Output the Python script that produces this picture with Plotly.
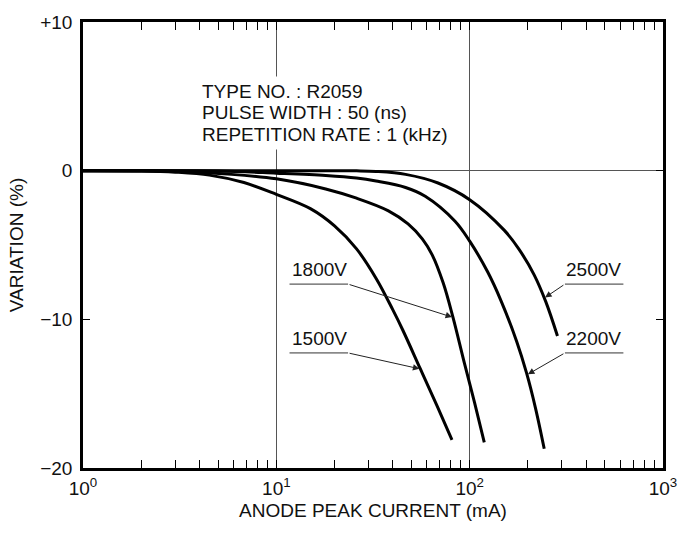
import numpy as np
import plotly.graph_objects as go

# ---- data (anode peak current in mA, variation in %) ----
current_1500 = [1, 2, 3, 4.5, 6.8, 10, 15, 20, 26, 33, 40, 45, 55.6, 68, 81]
var_1500 = [0, -0.02, -0.1, -0.3, -0.8, -1.59, -2.55, -3.71, -5.26, -7.3, -9.35, -10.7, -13.34, -15.86, -18.11]

current_1800 = [1, 3, 5.6, 10, 18, 26, 38, 48, 57, 64, 73, 82, 94, 106, 119]
var_1800 = [0, -0.05, -0.23, -0.55, -1.23, -1.85, -2.7, -3.58, -4.6, -5.66, -7.56, -9.87, -12.97, -15.6, -18.27]

current_2200 = [1, 5, 10, 18, 26, 32.8, 46.6, 58.9, 84, 100, 124, 145.5, 175.4, 197.2, 219, 243]
var_2200 = [0, -0.02, -0.17, -0.33, -0.5, -0.7, -1.13, -1.72, -3.4, -4.74, -6.82, -8.77, -11.52, -13.64, -15.97, -18.71]

current_2500 = [1, 10, 20, 26, 32.8, 46.6, 68.6, 100, 150.8, 179.4, 215.2, 247.5, 284.5]
var_2500 = [0, 0, 0, -0.01, -0.05, -0.25, -0.83, -1.95, -4.0, -5.26, -6.99, -8.81, -11.12]

series = [
    ("1500V", current_1500, var_1500),
    ("1800V", current_1800, var_1800),
    ("2200V", current_2200, var_2200),
    ("2500V", current_2500, var_2500),
]

x_tick_vals = [1, 10, 100, 1000]
x_tick_text = ["10<sup>0</sup>", "10<sup>1</sup>", "10<sup>2</sup>", "10<sup>3</sup>"]
x_minor_vals = [m * 10 ** d for d in range(3) for m in range(2, 10)]
y_tick_vals = [-20, -10, 0, 10]
y_tick_text = ["\u221220", "\u221210", "0", "+10"]

info_lines = ["TYPE NO. : R2059", "PULSE WIDTH : 50 (ns)", "REPETITION RATE : 1 (kHz)"]
info_line_y = [5.35, 3.89, 2.43]

# arrow tip currents (mA) for each curve label
label_tips = {"1500V": 55.6, "1800V": 82, "2200V": 198, "2500V": 243}

FONT = "Liberation Sans, Arial, sans-serif"
FS = 19

fig = go.Figure()
for name, cx, vy in series:
    fig.add_trace(go.Scatter(x=cx, y=vy, mode="lines", name=name,
                             line=dict(color="black", width=3, shape="spline", smoothing=1),
                             showlegend=False, hoverinfo="skip"))

def tip_y(name, c):
    for n, cx, vy in series:
        if n == name:
            return float(np.interp(np.log10(c), np.log10(cx), vy))

upper_text_y, upper_line_y = -6.64, -7.63
lower_text_y, lower_line_y = -11.27, -12.26
left_x0, left_x1 = 11.7, 23.5
right_x0, right_x1 = 311, 624
label_cfg = [
    ("1800V", left_x0, left_x1, upper_text_y, upper_line_y, "left"),
    ("1500V", left_x0, left_x1, lower_text_y, lower_line_y, "left"),
    ("2500V", right_x0, right_x1, upper_text_y, upper_line_y, "right"),
    ("2200V", right_x0, right_x1, lower_text_y, lower_line_y, "right"),
]

# white block that interrupts the 10^1 grid line behind the info text
fig.add_annotation(x=1, y=3.89, xref="x", yref="y", text="", showarrow=False,
                   width=30, height=72, bgcolor="white", borderpad=0)
for txt, ly in zip(info_lines, info_line_y):
    fig.add_annotation(x=0.605, y=ly, xref="x", yref="y", text=txt,
                       showarrow=False, xanchor="left", yanchor="middle", align="left",
                       font=dict(family=FONT, size=FS, color="#111"))

for name, x0, x1, ty, ly, side in label_cfg:
    fig.add_shape(type="line", xref="x", yref="y", x0=x0, x1=x1, y0=ly, y1=ly,
                  line=dict(color="#333", width=1))
    tx = x0 if side == "left" else x1
    fig.add_annotation(x=np.log10(tx), y=ty, text=name, showarrow=False,
                       xanchor=side, yanchor="middle",
                       font=dict(family=FONT, size=FS, color="#111"))
    tail = x1 if side == "left" else x0
    c = label_tips[name]
    fig.add_annotation(x=np.log10(c), y=tip_y(name, c), ax=np.log10(tail), ay=ly,
                       axref="x", ayref="y", xref="x", yref="y", text="",
                       showarrow=True, arrowhead=2, arrowsize=1.3, arrowwidth=1,
                       arrowcolor="#222", standoff=1, startstandoff=0)

fig.update_layout(
    width=689, height=534,
    margin=dict(l=83, r=18, t=16, b=66),
    paper_bgcolor="white", plot_bgcolor="white",
    font=dict(family=FONT, size=FS, color="#111"),
    xaxis=dict(type="log", range=[0, 3], tickvals=x_tick_vals, ticktext=x_tick_text,
               ticks="inside", ticklen=8, tickcolor="black", tickwidth=1,
               ticklabelstandoff=1, ticklabeloverflow="allow",
               showline=True, linecolor="black", linewidth=2.5, mirror="ticks",
               showgrid=True, gridcolor="#555", gridwidth=1, zeroline=False,
               minor=dict(tickvals=x_minor_vals, ticks="inside", ticklen=8,
                          tickcolor="black", tickwidth=1, showgrid=False),
               title=dict(text="ANODE PEAK CURRENT (mA)", standoff=7,
                          font=dict(family=FONT, size=FS))),
    yaxis=dict(range=[-20, 10], tickvals=y_tick_vals, ticktext=y_tick_text,
               ticks="inside", ticklen=7, tickcolor="black", tickwidth=1,
               ticklabelstandoff=4,
               showline=True, linecolor="black", linewidth=2.5, mirror="ticks",
               showgrid=False, zeroline=True, zerolinecolor="#555", zerolinewidth=1,
               title=dict(text="VARIATION (%)", standoff=12,
                          font=dict(family=FONT, size=FS))),
)

post = ("document.body.style.margin='0';document.body.style.overflow='hidden';"
        "var d=document.getElementById('{plot_id}');"
        "d.style.position='absolute';d.style.left='0px';d.style.top='0px';")
fig.write_html("out.html", post_script=post, config={"displayModeBar": False})
